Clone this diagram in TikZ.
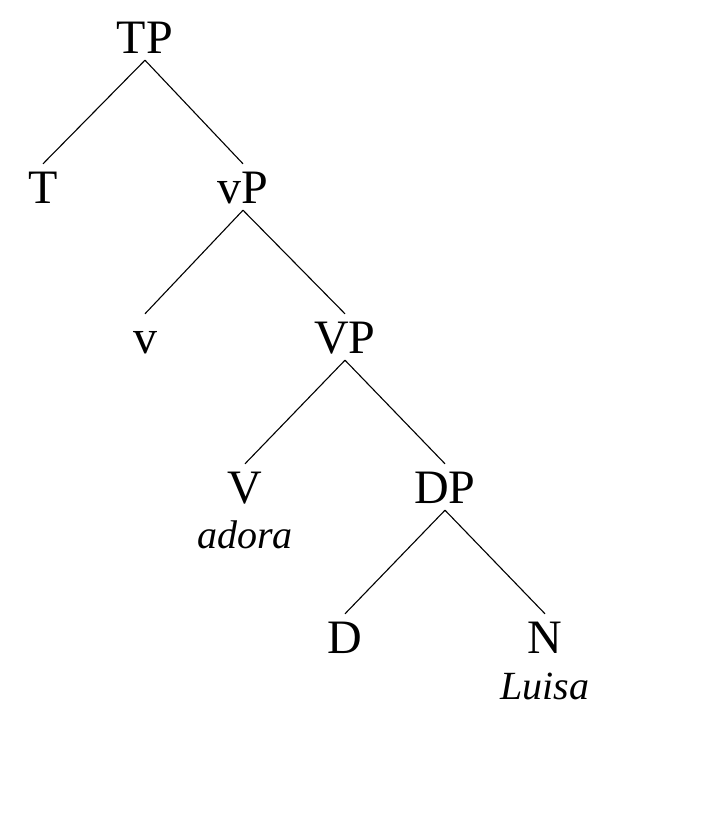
\documentclass[tikz,border=0pt]{standalone}
\usepackage{fontspec}
\setmainfont{Liberation Serif}
\begin{document}
\begin{tikzpicture}[x=1pt,y=1pt,
  cat/.style={anchor=base,font=\fontsize{48}{52}\selectfont,text height=32pt,text depth=0pt,inner xsep=0pt,inner ysep=7pt},
  word/.style={anchor=base,font=\fontsize{40}{44}\selectfont\itshape,inner sep=0pt},
  branch/.style={line width=1.1pt}]
\useasboundingbox (0,0) rectangle (720,-820);
\node[cat] (TP) at (145,-53) {TP};
\node[cat] (T) at (43,-203) {T};
\node[cat] (vP) at (243,-203) {vP};
\node[cat] (v) at (145,-353) {v};
\node[cat] (VP) at (345,-353) {VP};
\node[cat] (V) at (245,-503) {V};
\node[word] (adora) at (245,-548) {adora};
\node[cat] (DP) at (445,-503) {DP};
\node[cat] (D) at (345,-653) {D};
\node[cat] (N) at (545,-653) {N};
\node[word] (Luisa) at (545,-699) {Luisa};
\draw[branch] (TP.south) -- (T.north);
\draw[branch] (TP.south) -- (vP.north);
\draw[branch] (vP.south) -- (v.north);
\draw[branch] (vP.south) -- (VP.north);
\draw[branch] (VP.south) -- (V.north);
\draw[branch] (VP.south) -- (DP.north);
\draw[branch] (DP.south) -- (D.north);
\draw[branch] (DP.south) -- (N.north);
\end{tikzpicture}
\end{document}
